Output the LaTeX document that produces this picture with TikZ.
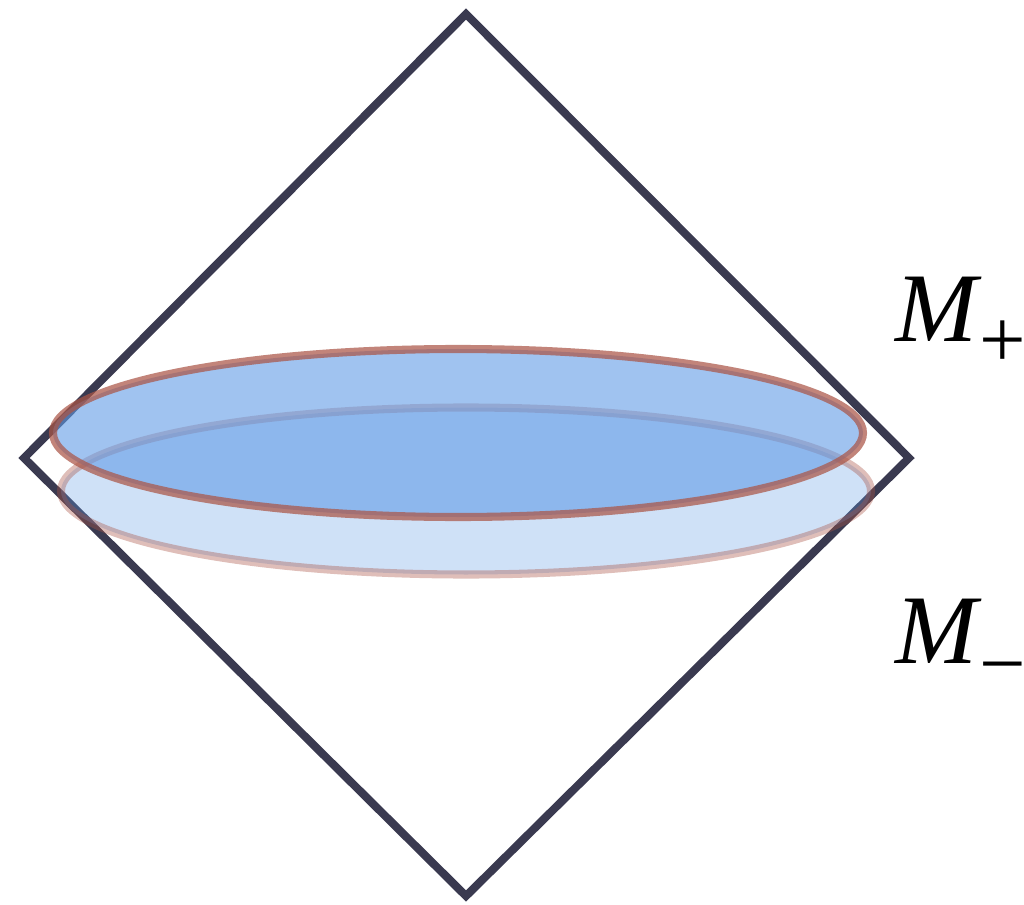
\documentclass[tikz,border=0pt]{standalone}
\usepackage{fontspec}
\setmainfont{Liberation Serif}
\usetikzlibrary{positioning}
\definecolor{frame}{RGB}{58,58,80}
\definecolor{sheetblue}{RGB}{97,155,230}
\definecolor{rim}{RGB}{170,85,70}
\newcommand{\sublabel}[2]{\kern1pt\raisebox{#1}{\upshape\fontsize{47}{50}\selectfont #2}}
\tikzset{
  frameline/.style={draw=frame,line width=4.6pt,line join=miter},
  slice/.style={fill=sheetblue,draw=rim,line width=4.6pt},
  upperslice/.style={slice,fill opacity=0.6,draw opacity=0.72},
  lowerslice/.style={slice,fill opacity=0.3,draw opacity=0.38},
  region/.style={font=\fontsize{56}{60}\selectfont\itshape,anchor=base west,inner sep=0pt}
}
\begin{document}
\begin{tikzpicture}[x=0.02cm,y=-0.02cm]
\useasboundingbox (0,0) rectangle (1024,905);
% diamond
\coordinate (top) at (466,14);
\coordinate (right) at (909,458);
\coordinate (bottom) at (466,896);
\coordinate (left) at (24,458);
\draw[frameline] (top) -- (right) -- (bottom) -- (left) -- cycle;
% slices
\coordinate (lowc) at (466,491);
\coordinate (upc) at (458,433);
\draw[lowerslice] (lowc) ellipse [x radius=405,y radius=83.5];
\draw[upperslice] (upc) ellipse [x radius=405,y radius=84];
% labels
\node[region] (mplus) at (895,341) {M\sublabel{-15pt}{+}};
\node[region] (mminus) at (895,663) {M\sublabel{-16.5pt}{−}};
\end{tikzpicture}
\end{document}
